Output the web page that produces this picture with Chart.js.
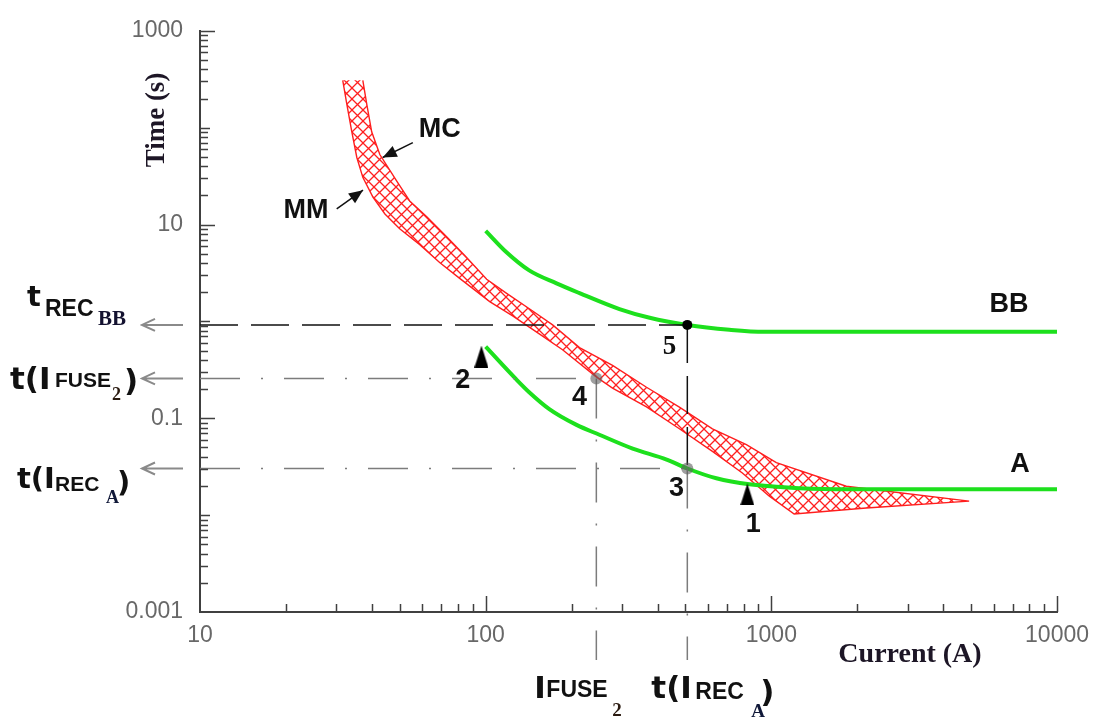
<!DOCTYPE html>
<html><head><meta charset="utf-8">
<script src="https://cdn.jsdelivr.net/npm/chart.js@4.4.1/dist/chart.umd.min.js"></script>
<style>html,body{margin:0;padding:0;background:#fff}#wrap{width:1099px;height:721px;position:relative}</style>
</head><body><div id="wrap"><canvas id="c" width="1099" height="721"></canvas></div>
<script>
// ---------------- data ----------------
const xTickLabels = [10, 100, 1000, 10000];
const yTickLabels = [1000, 10, 0.1, 0.001];

// green curve BB
const currentBB = [100, 118, 142, 177, 213, 294, 375, 508, 713, 945, 10000];
const timeBB    = [8.6, 5.2, 3.36, 2.47, 1.96, 1.34, 1.09, 0.92, 0.82, 0.78, 0.78];

// green curve A
const currentA = [100, 128, 142, 167, 208, 250, 327, 430, 508, 642, 838, 1253, 1875, 10000];
const timeA    = [0.548, 0.252, 0.186, 0.1245, 0.0855, 0.0676, 0.0486, 0.0375, 0.0303, 0.024, 0.0208, 0.019, 0.0185, 0.0185];

// fuse band: MC (upper / right edge) and MM (lower / left edge)
const mcCurrent = [37.15, 38.4, 39.9, 42.6, 48.9, 54.2, 62.2, 73.0, 84.5, 100.8, 118.4, 146, 171.5, 213, 278, 365.6, 476.5, 622, 817.7, 1041, 1829, 4924];
const mcTime    = [308, 171, 90.7, 52.8, 27.9, 17.5, 12.0, 7.48, 4.78, 2.72, 1.95, 1.28, 0.92, 0.536, 0.351, 0.209, 0.1305, 0.0778, 0.0534, 0.0349, 0.01987, 0.01396];
const mmCurrent = [31.6, 32.7, 34.0, 35.4, 37.15, 40.3, 44.4, 50.0, 58.8, 69.0, 81.1, 103.3, 124.3, 154.5, 185.8, 244.4, 278, 365.6, 476.5, 622, 791.7, 984, 1202, 2148, 4924];
const mmTime    = [308, 171, 90.7, 49.2, 30.7, 19.2, 12.85, 9.03, 6.2, 4.06, 2.78, 1.6, 1.14, 0.74, 0.51, 0.266, 0.205, 0.131, 0.078, 0.0455, 0.0272, 0.0157, 0.01028, 0.01183, 0.01396];

// coordination points
const tRecBB = 0.92, iRecA = 508, tRecA = 0.0303, iFuse2 = 244, tFuse2 = 0.258, tBelowAxis = 0.00032;
const triCurrent = [96.6, 824];
const triTime    = [0.434, 0.0164];

// text annotations in data units
const noteText    = ['BB', 'A', 'MC', 'MM', '1', '2', '3', '4', '5'];
const noteCurrent = [6790, 7425, 69.0, 23.5, 865, 83.1, 465.6, 213, 439.6];
const noteTime    = [1.51, 0.0333, 95, 13.8, 0.00793, 0.2465, 0.01896, 0.165, 0.548];
// annotation arrows [fromCurrent, fromTime, toCurrent, toTime]
const arrowMC = [55.6, 70.0, 43.6, 49.2];
const arrowMM = [30.1, 14.5, 37.2, 22.6];

// ---------------- helpers ----------------
const SANS = "'Liberation Sans', Arial, sans-serif";
const WIDE = "'DejaVu Sans', 'Liberation Sans', sans-serif";
const SERIF = "'Liberation Serif', 'Times New Roman', serif";
function logTicks(min, max) {
  const out = [];
  for (let e = Math.round(Math.log10(min)); e < Math.round(Math.log10(max)); e++) {
    for (let m = 1; m <= 9; m++) out.push(+(m * Math.pow(10, e)).toPrecision(6));
  }
  out.push(max);
  return out;
}
const same = (a, b) => Math.abs(Math.log10(a) - Math.log10(b)) < 1e-6;
const labelFor = (v, arr) => { const hit = arr.find(a => same(a, v)); return hit === undefined ? '' : String(hit); };
const isDecade = v => Math.abs(Math.log10(v) - Math.round(Math.log10(v))) < 1e-6;
const pts = (xs, ys) => xs.map((x, i) => ({x, y: ys[i]}));

// hatch pattern
const hatch = document.createElement('canvas');
hatch.width = 11; hatch.height = 11;
{ const h = hatch.getContext('2d'); h.strokeStyle = '#ff2020'; h.lineWidth = 1.3;
  h.beginPath(); h.moveTo(0, 0); h.lineTo(11, 11); h.moveTo(11, 0); h.lineTo(0, 11); h.stroke(); }
const hatchPattern = document.createElement('canvas').getContext('2d').createPattern(hatch, 'repeat');

// narrow triangle marker
const triImg = document.createElement('canvas');
triImg.width = 14; triImg.height = 22;
{ const t = triImg.getContext('2d'); t.fillStyle = '#000'; t.beginPath(); t.moveTo(7, 0); t.lineTo(14, 22); t.lineTo(0, 22); t.closePath(); t.fill(); }

const bandShape = pts(mcCurrent, mcTime).concat(pts(mmCurrent, mmTime).reverse());

const GREEN = '#1de01d';
const GRAY = '#7c7c7c';

const lineDs = (data, color, width, dash, extra) => Object.assign({
  data, showLine: true, borderColor: color, borderWidth: width, borderDash: dash || [],
  pointRadius: 0, fill: false, tension: 0
}, extra || {});

const datasets = [
  { data: [{x: iRecA, y: tRecBB}], pointRadius: 5, backgroundColor: '#000', borderWidth: 0 },
  { data: [{x: iFuse2, y: tFuse2}, {x: iRecA, y: tRecA}], pointRadius: 6, backgroundColor: 'rgba(95,95,95,0.6)', borderWidth: 0 },
  { data: pts(triCurrent, triTime), pointStyle: triImg, pointRadius: 6, borderWidth: 0 },
  lineDs([{x: 10, y: tRecBB}, {x: iRecA, y: tRecBB}], '#111', 1.5, [38, 13]),
  lineDs([{x: iRecA, y: tRecBB}, {x: iRecA, y: tRecA}], '#111', 1.5, [38, 13]),
  lineDs([{x: 10, y: tFuse2}, {x: iFuse2, y: tFuse2}], GRAY, 1.5, [40, 21, 2, 21]),
  lineDs([{x: iFuse2, y: tFuse2}, {x: iFuse2, y: tBelowAxis}], GRAY, 1.5, [40, 21, 2, 21], {clip: false}),
  lineDs([{x: 10, y: tRecA}, {x: iRecA, y: tRecA}], GRAY, 1.5, [40, 21, 2, 21]),
  lineDs([{x: iRecA, y: tRecA}, {x: iRecA, y: tBelowAxis}], GRAY, 1.5, [40, 21, 2, 21], {clip: false}),
  lineDs(pts(currentBB, timeBB), GREEN, 4, null, {cubicInterpolationMode: 'monotone'}),
  lineDs(pts(currentA, timeA), GREEN, 4, null, {cubicInterpolationMode: 'monotone'}),
  lineDs(bandShape, '#ff1e1e', 1.4, null, {fill: 'shape', backgroundColor: hatchPattern})
];

function text(ctx, s, x, y, font, color, align, baseline) {
  ctx.font = font; ctx.fillStyle = color || '#000';
  ctx.textAlign = align || 'left'; ctx.textBaseline = baseline || 'alphabetic';
  ctx.fillText(s, x, y);
}
function arrowHead(ctx, x0, y0, x1, y1, len, half) {
  const a = Math.atan2(y1 - y0, x1 - x0);
  ctx.beginPath();
  ctx.moveTo(x1, y1);
  ctx.lineTo(x1 - len * Math.cos(a) + half * Math.sin(a), y1 - len * Math.sin(a) - half * Math.cos(a));
  ctx.lineTo(x1 - len * Math.cos(a) - half * Math.sin(a), y1 - len * Math.sin(a) + half * Math.cos(a));
  ctx.closePath(); ctx.fill();
}

const decor = {
  id: 'decor',
  afterDraw(chart) {
    const {ctx, chartArea: ca} = chart;
    const xs = chart.scales.x, ys = chart.scales.y;
    ctx.save();
    // inward tick marks
    ctx.strokeStyle = '#404040'; ctx.lineWidth = 1.5; ctx.beginPath();
    for (const v of logTicks(10, 10000)) {
      if (same(v, 10)) continue;
      const px = Math.round(xs.getPixelForValue(v)) + 0.5;
      const len = isDecade(v) ? 16 : 8;
      ctx.moveTo(px, ca.bottom); ctx.lineTo(px, ca.bottom - len);
    }
    for (const v of logTicks(0.001, 1000)) {
      if (same(v, 0.001)) continue;
      const py = Math.round(ys.getPixelForValue(v)) + 0.5;
      const len = labelFor(v, yTickLabels) ? 15 : (isDecade(v) ? 10 : 8);
      ctx.moveTo(ca.left, py); ctx.lineTo(ca.left + len, py);
    }
    ctx.stroke();

    // axis titles
    ctx.save();
    ctx.translate(157, 120); ctx.rotate(-Math.PI / 2);
    text(ctx, 'Time (s)', 0, 0, 'bold 27px ' + SERIF, '#1d1626', 'center', 'middle');
    ctx.restore();
    text(ctx, 'Current (A)', 910, 655, 'bold 28px ' + SERIF, '#1d1626', 'center', 'middle');

    // in-plot annotations
    noteText.forEach((s, i) => {
      const px = xs.getPixelForValue(noteCurrent[i]), py = ys.getPixelForValue(noteTime[i]);
      const font = s === '5' ? 'bold 27px ' + SERIF : 'bold 27px ' + SANS;
      text(ctx, s, px, py, font, '#111', 'center', 'middle');
    });
    ctx.strokeStyle = '#111'; ctx.fillStyle = '#111'; ctx.lineWidth = 1.5;
    for (const a of [arrowMC, arrowMM]) {
      const x0 = xs.getPixelForValue(a[0]), y0 = ys.getPixelForValue(a[1]);
      const x1 = xs.getPixelForValue(a[2]), y1 = ys.getPixelForValue(a[3]);
      ctx.beginPath(); ctx.moveTo(x0, y0); ctx.lineTo(x1, y1); ctx.stroke();
      arrowHead(ctx, x0, y0, x1, y1, 14, 6);
    }

    // left arrows
    ctx.strokeStyle = '#8a8a8a'; ctx.lineWidth = 2;
    for (const t of [tRecBB, tFuse2, tRecA]) {
      const py = ys.getPixelForValue(t);
      ctx.beginPath();
      ctx.moveTo(ca.left - 17, py); ctx.lineTo(ca.left - 58, py);
      ctx.moveTo(ca.left - 45, py - 6); ctx.lineTo(ca.left - 58, py); ctx.lineTo(ca.left - 45, py + 6);
      ctx.stroke();
    }

    // left labels
    const B = 'bold ';
    let py = ys.getPixelForValue(tRecBB);
    text(ctx, 't', 27, py - 19, B + '29px ' + WIDE, '#111');
    text(ctx, 'REC', 45, py - 9, B + '23px ' + SANS, '#111');
    text(ctx, 'BB', 98, py, B + '21px ' + SERIF, '#141230');

    py = ys.getPixelForValue(tFuse2);
    text(ctx, 't(I', 10, py + 11, B + '31px ' + WIDE, '#111');
    text(ctx, 'FUSE', 55, py + 9, B + '21px ' + SANS, '#111');
    text(ctx, '2', 112, py + 22, B + '18px ' + SERIF, '#2a1a10');
    text(ctx, ')', 124, py + 13, B + '31px ' + WIDE, '#111');

    py = ys.getPixelForValue(tRecA);
    text(ctx, 't(I', 17, py + 20, B + '29px ' + WIDE, '#111');
    text(ctx, 'REC', 55, py + 23, B + '21px ' + SANS, '#111');
    text(ctx, 'A', 106, py + 35, B + '18px ' + SERIF, '#101838');
    text(ctx, ')', 117, py + 24, B + '29px ' + WIDE, '#111');

    // bottom labels
    let px = xs.getPixelForValue(iFuse2);
    const by = ca.bottom;
    text(ctx, 'I', px - 62, by + 86, B + '31px ' + WIDE, '#111');
    text(ctx, 'FUSE', px - 50, by + 85, B + '23px ' + SANS, '#111');
    text(ctx, '2', px + 16, by + 104, B + '19px ' + SERIF, '#2a1a10');
    px = xs.getPixelForValue(iRecA);
    text(ctx, 't(I', px - 36, by + 86, B + '31px ' + WIDE, '#111');
    text(ctx, 'REC', px + 8, by + 87, B + '23px ' + SANS, '#111');
    text(ctx, 'A', px + 64, by + 105, B + '19px ' + SERIF, '#101838');
    text(ctx, ')', px + 73, by + 90, B + '31px ' + WIDE, '#111');
    ctx.restore();
  }
};

new Chart(document.getElementById('c'), {
  type: 'scatter',
  data: { datasets },
  options: {
    responsive: false, animation: false, devicePixelRatio: 1,
    layout: { padding: { top: 25, right: 41, left: 0, bottom: 0 } },
    plugins: { legend: { display: false }, tooltip: { enabled: false } },
    scales: {
      x: {
        type: 'logarithmic', min: 10, max: 10000,
        afterBuildTicks: s => { s.ticks = logTicks(10, 10000).map(v => ({value: v})); },
        afterFit: s => { s.height = 109; },
        ticks: { autoSkip: false, maxRotation: 0, padding: 10, color: '#686868',
          font: { family: 'Liberation Sans', size: 23 }, callback: v => labelFor(v, xTickLabels) },
        grid: { display: true, drawOnChartArea: false, drawTicks: false },
        border: { display: true, color: '#404040', width: 2 }
      },
      y: {
        type: 'logarithmic', min: 0.001, max: 1000,
        afterBuildTicks: s => { s.ticks = logTicks(0.001, 1000).map(v => ({value: v})); },
        afterFit: s => { s.width = 200; },
        ticks: { autoSkip: false, padding: 17, color: '#686868',
          font: { family: 'Liberation Sans', size: 23 }, callback: v => labelFor(v, yTickLabels) },
        grid: { display: true, drawOnChartArea: false, drawTicks: false },
        border: { display: true, color: '#404040', width: 2 }
      }
    }
  },
  plugins: [decor]
});
</script>
</body></html>
